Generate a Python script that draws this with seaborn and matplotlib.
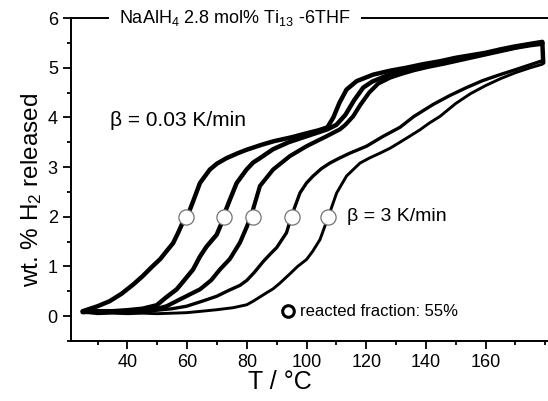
import numpy as np
import pandas as pd
import seaborn as sns
import matplotlib.pyplot as plt
from matplotlib.ticker import MultipleLocator

# values
t1 = [25, 30, 34, 38, 42, 45, 48, 51, 53, 55.3, 57, 58.7, 60.4, 62, 64.3, 67.6, 70, 73.2, 77, 80, 85, 89, 95, 100,
      104, 107, 109, 111, 113.4, 116.8, 122.3, 128, 133.5, 139, 144.7, 150, 155, 160, 165, 170, 175, 179, 179.3]
w1 = [0.1, 0.2, 0.3, 0.45, 0.64, 0.8, 0.98, 1.15, 1.3, 1.47, 1.68, 1.91, 2.06, 2.31, 2.68, 2.95, 3.07, 3.18, 3.28,
      3.35, 3.45, 3.52, 3.6, 3.68, 3.74, 3.8, 4.0, 4.29, 4.56, 4.73, 4.86, 4.94, 5.0, 5.07, 5.13, 5.2, 5.25, 5.3,
      5.37, 5.43, 5.48, 5.52, 5.1]

t2 = [25, 30, 35, 40, 45, 49.8, 53, 56.5, 59, 62, 64.3, 66.5, 69.9, 71.6, 72.4, 74.3, 76.6, 79.9, 82.1, 84.4, 88.8,
      94, 100, 104, 107, 110, 113, 116, 119, 122, 126, 130, 135, 140, 145, 150, 155, 160, 165, 170, 175, 179]
w2 = [0.08, 0.1, 0.1, 0.12, 0.15, 0.22, 0.38, 0.54, 0.72, 0.94, 1.2, 1.4, 1.64, 1.88, 2.05, 2.34, 2.68, 2.95, 3.09,
      3.18, 3.36, 3.5, 3.62, 3.7, 3.76, 3.85, 4.05, 4.35, 4.6, 4.72, 4.82, 4.9, 4.97, 5.04, 5.1, 5.17, 5.23, 5.29,
      5.35, 5.41, 5.47, 5.5]

t3 = [25, 30, 35, 40, 45, 50, 53.1, 58, 64.3, 68, 71, 74.3, 77.7, 80, 81.6, 84.4, 88.8, 94.4, 100, 106.7, 111.2,
      113, 115.6, 118, 121, 124, 128, 132, 136, 141, 146, 152, 158, 164, 170, 175, 179]
w3 = [0.1, 0.08, 0.1, 0.1, 0.12, 0.15, 0.2, 0.35, 0.54, 0.72, 0.94, 1.15, 1.48, 1.8, 2.05, 2.62, 2.95, 3.22, 3.42,
      3.62, 3.76, 3.85, 4.02, 4.25, 4.5, 4.68, 4.8, 4.88, 4.95, 5.02, 5.08, 5.16, 5.24, 5.32, 5.4, 5.45, 5.48]

t4 = [25, 30, 35, 40, 45, 50, 55, 59.8, 65, 69.9, 74, 77.7, 80, 82.5, 85.5, 88, 90, 93.3, 95, 97.8, 100, 102.2, 105,
      107.8, 111, 114.5, 120.1, 125.7, 131.3, 136, 142.4, 148, 153.6, 159, 164.8, 170, 175, 179]
w4 = [0.08, 0.1, 0.08, 0.1, 0.1, 0.12, 0.15, 0.2, 0.3, 0.4, 0.52, 0.62, 0.72, 0.88, 1.1, 1.26, 1.38, 1.68, 2.02,
      2.48, 2.68, 2.82, 2.97, 3.08, 3.18, 3.28, 3.42, 3.62, 3.8, 4.02, 4.26, 4.44, 4.6, 4.74, 4.86, 4.96, 5.06, 5.14]

t5 = [25, 30, 35, 40, 45, 50, 55, 59.8, 65, 70, 75.4, 80, 82.1, 86.6, 88.8, 91, 94.4, 97, 100, 102, 104.5, 107.3,
      110.1, 113.4, 117.9, 121, 124.6, 128, 131.3, 134, 138, 141, 144.7, 150, 155, 160, 165, 170, 175, 179]
w5 = [0.08, 0.05, 0.06, 0.05, 0.06, 0.05, 0.06, 0.07, 0.1, 0.13, 0.17, 0.23, 0.3, 0.47, 0.55, 0.66, 0.85, 1.0, 1.14,
      1.3, 1.54, 2.0, 2.48, 2.82, 3.08, 3.18, 3.28, 3.38, 3.5, 3.6, 3.75, 3.88, 4.02, 4.28, 4.48, 4.64, 4.78, 4.9,
      5.0, 5.07]

# 55 % reacted fraction points
t55 = [59.6, 72.5, 82.0, 95.0, 107.2]
w55 = [2.0, 2.0, 2.0, 2.0, 2.0]

curves = [(t1, w1, 3.2), (t2, w2, 3.2), (t3, w3, 3.0), (t4, w4, 2.4), (t5, w5, 2.1)]

sns.set_theme(style='ticks')
plt.rcParams['font.family'] = ['Liberation Sans', 'DejaVu Sans']
plt.rcParams['mathtext.default'] = 'regular'
plt.rcParams['text.color'] = 'black'
plt.rcParams['axes.labelcolor'] = 'black'
plt.rcParams['xtick.color'] = 'black'
plt.rcParams['ytick.color'] = 'black'

fig = plt.figure(figsize=(5.48, 4.01), dpi=100)
ax = fig.add_axes([0.1296, 0.1496, 0.8704, 0.8055])

for t, w, lw in curves:
    df = pd.DataFrame({'T': t, 'wt': w})
    sns.lineplot(data=df, x='T', y='wt', color='black', linewidth=lw, sort=False,
                 estimator=None, ax=ax)

sns.scatterplot(x=t55, y=w55, ax=ax, s=120, marker='o', facecolor='white',
                edgecolor='0.45', linewidth=0.9, zorder=5)

# legend-like symbol
sns.scatterplot(x=[93.8], y=[0.1], ax=ax, s=70, marker='o', facecolor='white',
                edgecolor='black', linewidth=2.2, zorder=5)
ax.text(97.8, 0.1, 'reacted fraction: 55%', fontsize=12, va='center', ha='left')

ax.text(34.0, 3.94, 'β = 0.03 K/min', fontsize=15, va='center', ha='left')
ax.text(113.5, 2.0, 'β = 3 K/min', fontsize=14, va='center', ha='left')

ax.text(76.0, 6.0, 'NaAlH$_4$ 2.8 mol% Ti$_{13}$ -6THF', fontsize=13, va='center', ha='center',
        bbox=dict(facecolor='white', edgecolor='none', boxstyle='square,pad=0.55'), zorder=6)

ax.set_xlim(21.1, 180.9)
ax.set_ylim(-0.5, 6.0)
ax.xaxis.set_minor_locator(MultipleLocator(10))
ax.yaxis.set_minor_locator(MultipleLocator(0.5))
ax.set_xticks(range(40, 161, 20))
ax.set_yticks(range(0, 7))

ax.set_xlabel('T / °C', fontsize=18)
ax.set_ylabel('wt. % H$_2$ released', fontsize=17.5)
ax.xaxis.set_label_coords(0.438, -0.09)
ax.yaxis.set_label_coords(-0.057, 0.467)

ax.spines['right'].set_visible(False)
for s in ['left', 'bottom', 'top']:
    ax.spines[s].set_linewidth(1.4)
    ax.spines[s].set_color('black')
ax.tick_params(which='major', direction='out', length=6, width=1.3, labelsize=13, color='black')
ax.tick_params(which='minor', direction='out', length=3, width=1.3, color='black')
ax.tick_params(axis='x', which='both', top=False)

fig.savefig('out.png', dpi=100)
